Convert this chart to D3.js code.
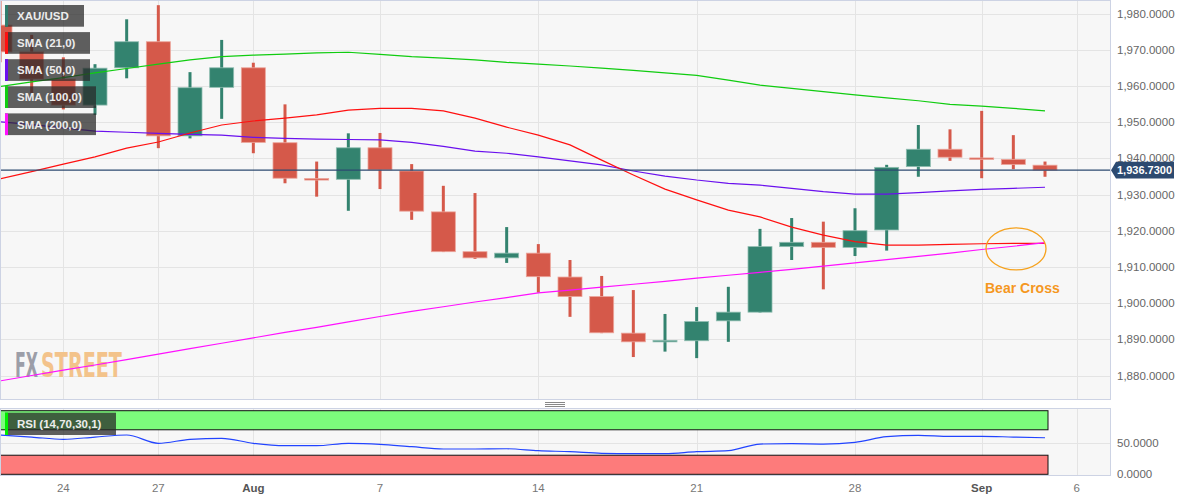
<!DOCTYPE html>
<html><head><meta charset="utf-8">
<script src="https://cdn.jsdelivr.net/npm/d3@7"></script>
<style>html,body{margin:0;padding:0;background:#fff;} svg{display:block;font-family:"Liberation Sans",Arial,sans-serif;}</style>
</head><body><svg id="c" width="1194" height="501"></svg>
<script>
// ---------- data ----------
const dates = ["2023-07-20","2023-07-21","2023-07-24","2023-07-25","2023-07-26","2023-07-27","2023-07-28","2023-07-31",
  "2023-08-01","2023-08-02","2023-08-03","2023-08-04","2023-08-07","2023-08-08","2023-08-09","2023-08-10","2023-08-11",
  "2023-08-14","2023-08-15","2023-08-16","2023-08-17","2023-08-18","2023-08-21","2023-08-22","2023-08-23","2023-08-24",
  "2023-08-25","2023-08-28","2023-08-29","2023-08-30","2023-08-31","2023-09-01","2023-09-04","2023-09-05"];
const futureDates = ["2023-09-06"];
const open  = [1976.8,1969.4,1961.9,1954.7,1965.0,1972.2,1946.2,1959.6,1965.0,1944.3,1934.4,1934.2,1942.9,1936.5,1925.2,1914.2,1912.5,
  1913.8,1907.2,1901.8,1891.7,1889.5,1889.6,1895.1,1897.5,1915.6,1916.8,1915.4,1920.2,1937.7,1942.5,1940.1,1939.7,1938.1];
const high  = [1986.0,1974.1,1967.9,1966.0,1978.4,1982.3,1963.8,1972.7,1966.4,1954.9,1939.1,1946.9,1947.0,1938.4,1932.4,1930.4,1921.0,
  1916.3,1911.9,1907.5,1903.6,1897.0,1898.9,1904.5,1920.5,1923.5,1922.5,1926.2,1938.2,1949.2,1948.0,1953.1,1946.4,1939.1];
const low   = [1966.5,1958.0,1953.5,1952.0,1962.1,1942.8,1945.5,1950.9,1941.4,1933.1,1929.4,1925.5,1931.5,1923.0,1914.1,1912.2,1911.1,
  1902.9,1896.2,1891.7,1885.1,1886.6,1884.8,1889.3,1897.4,1911.9,1903.8,1913.0,1914.5,1934.9,1939.3,1934.5,1937.0,1934.9];
const close = [1969.4,1961.9,1954.7,1964.9,1972.2,1946.2,1959.5,1965.0,1944.4,1934.5,1934.2,1942.9,1936.8,1925.4,1914.2,1912.5,1913.8,
  1907.3,1901.8,1891.8,1889.3,1889.7,1894.9,1897.5,1915.6,1916.8,1915.4,1920.0,1937.5,1942.5,1940.3,1940.0,1938.3,1936.73];
const sma21  = [1934.3,1936.3,1938.4,1940.4,1942.8,1944.5,1947.0,1949.2,1950.3,1951.1,1952.0,1953.3,1953.8,1953.8,1953.1,1951.1,1948.6,
  1946.4,1943.7,1939.5,1935.4,1931.5,1928.5,1925.7,1923.8,1921.0,1918.8,1917.0,1916.0,1916.0,1916.2,1916.4,1916.5,1916.5];
const sma50  = [1950.1,1949.3,1948.4,1947.5,1947.2,1946.9,1946.6,1946.4,1945.8,1945.5,1945.3,1945.2,1945.1,1944.4,1943.3,1942.0,1941.4,
  1940.4,1939.3,1938.2,1936.5,1935.1,1934.0,1933.1,1932.6,1931.7,1930.8,1930.1,1930.1,1930.5,1931.0,1931.4,1931.7,1932.0];
const sma100 = [1959.8,1961.1,1962.3,1963.6,1964.8,1966.0,1967.2,1968.1,1968.5,1968.8,1969.1,1969.3,1968.7,1968.1,1967.7,1967.2,1966.5,
  1966.0,1965.5,1964.9,1964.3,1963.6,1962.9,1961.6,1960.2,1959.3,1958.4,1957.5,1956.7,1955.9,1954.9,1954.4,1953.8,1953.1];
const sma200 = [1878.5,1880.0,1881.5,1882.9,1884.4,1885.9,1887.4,1888.9,1890.4,1891.9,1893.3,1894.8,1896.3,1897.7,1899.0,1900.3,1901.5,
  1902.8,1903.6,1904.4,1905.2,1906.0,1906.9,1907.7,1908.5,1909.3,1910.2,1911.1,1912.0,1912.9,1913.8,1914.8,1915.7,1916.7];
const rsi = [61.8,58.6,55.0,58.6,61.8,48.7,55.0,56.6,48.7,45.0,45.0,48.7,47.2,43.4,39.8,39.8,40.2,
  37.1,35.5,33.0,32.4,32.4,35.5,37.1,47.6,48.1,47.6,50.3,59.1,61.3,59.7,59.7,58.6,57.5];
const priceTicks = [1880,1890,1900,1910,1920,1930,1940,1950,1960,1970,1980];
const rsiTicks = [0,50];
const tickDates  = ["2023-07-24","2023-07-27","2023-08-01","2023-08-07","2023-08-14","2023-08-21","2023-08-28","2023-09-01","2023-09-06"];
const tickLabels = ["24","27","Aug","7","14","21","28","Sep","6"];
const tickBold   = [false,false,true,false,false,false,false,true,false];
const lastPrice = 1936.73;
const legendItems = ["XAU/USD","SMA (21,0)","SMA (50,0)","SMA (100,0)","SMA (200,0)"];
const legendColors = ["#2f7d6d","#ff1010","#6a10ee","#10cc10","#ff10ff"];
const rsiLegend = "RSI (14,70,30,1)";
const rsiBands = [[70,100],[0,30]];
const annotation = "Bear Cross";
const watermark = ["FX","STREET"];

// ---------- layout ----------
const svg = d3.select("#c");
const plotR = 1110, mainBot = 399, rsiTop = 408, rsiBot = 475;
const slots = dates.concat(futureDates);
const x = d3.scalePoint().domain(slots).range([0, 1076.67]);
const y = d3.scaleLinear().domain([1880, 1980]).range([375.5, 13.5]);
const yr = d3.scaleLinear().domain([0, 100]).range([474.3, 410.7]);
const UP = "#33836f", DN = "#d5594a", UPs = "#8fbdb1", DNs = "#eca49a";

const defs = svg.append("defs");
defs.append("clipPath").attr("id","mc").append("rect").attr("x",1).attr("y",1).attr("width",plotR-1).attr("height",mainBot-1);
defs.append("clipPath").attr("id","rc").append("rect").attr("x",1).attr("y",rsiTop+1).attr("width",plotR-1).attr("height",rsiBot-rsiTop-1);

// panels
svg.append("rect").attr("x",0.5).attr("y",0.5).attr("width",plotR).attr("height",mainBot)
  .attr("fill","#f7f7f7").attr("stroke","#cdd3e4");
svg.append("rect").attr("x",0.5).attr("y",rsiTop+0.5).attr("width",plotR).attr("height",rsiBot-rsiTop)
  .attr("fill","#f7f7f7").attr("stroke","#cdd3e4");

// grid
const grid = svg.append("g").attr("stroke","#e4e4e4").attr("stroke-width",1);
priceTicks.forEach(t => grid.append("line").attr("x1",1).attr("x2",plotR).attr("y1",Math.round(y(t))+0.5).attr("y2",Math.round(y(t))+0.5));
tickDates.forEach(d => {
  const xx = Math.round(x(d))+0.5;
  grid.append("line").attr("x1",xx).attr("x2",xx).attr("y1",1).attr("y2",mainBot);
  grid.append("line").attr("x1",xx).attr("x2",xx).attr("y1",rsiTop+1).attr("y2",rsiBot);
});
grid.append("line").attr("x1",1).attr("x2",plotR).attr("y1",Math.round(yr(50))+0.5).attr("y2",Math.round(yr(50))+0.5);

// watermark: two texts, each compressed to fit its own slot (measured at runtime)
const wmFont = "'Liberation Sans Narrow','DejaVu Sans Condensed','Liberation Sans',sans-serif";
[[watermark[0],15,23,"#9c9ea8"],[watermark[1],41,81,"#f3c38b"]].forEach(([t,x0,w,col])=>{
  const g = svg.append("g");
  const tx = g.append("text").attr("font-family",wmFont).attr("font-weight","bold").attr("font-size",33).attr("fill",col).text(t);
  const nat = tx.node().getComputedTextLength() || w;
  g.attr("transform",`translate(${x0},377) scale(${w/nat},1)`);
});

// candles
const main = svg.append("g").attr("clip-path","url(#mc)");
const idx = d3.range(dates.length);
main.selectAll("line.wick").data(idx).join("line").attr("class","wick")
  .attr("x1",i=>x(dates[i])).attr("x2",i=>x(dates[i]))
  .attr("y1",i=>y(high[i])).attr("y2",i=>y(low[i]))
  .attr("stroke",i=>close[i]>=open[i]?UP:DN).attr("stroke-width",3);
main.selectAll("rect.body").data(idx).join("rect").attr("class","body")
  .attr("x",i=>x(dates[i])-12).attr("width",24)
  .attr("y",i=>y(Math.max(open[i],close[i])))
  .attr("height",i=>Math.max(1.5, Math.abs(y(open[i])-y(close[i]))))
  .attr("fill",i=>close[i]>=open[i]?UP:DN)
  .attr("stroke",i=>close[i]>=open[i]?UPs:DNs).attr("stroke-width",0.8);

// SMA lines
const line = d3.line().x((v,i)=>x(dates[i])).y(v=>y(v)).curve(d3.curveLinear);
[[sma100,legendColors[3]],[sma50,legendColors[2]],[sma21,legendColors[1]],[sma200,legendColors[4]]].forEach(([arr,col])=>{
  main.append("path").attr("d",line(arr)).attr("fill","none").attr("stroke",col).attr("stroke-width",1.2);
});

// last price line
main.append("line").attr("x1",1).attr("x2",plotR).attr("y1",y(lastPrice)).attr("y2",y(lastPrice))
  .attr("stroke","#2c4a70").attr("stroke-width",1.2);

// annotation
const last = dates.length-1;
svg.append("ellipse").attr("cx",1016).attr("cy",y(sma21[last])+5.5).attr("rx",30).attr("ry",21)
  .attr("fill","none").attr("stroke","#f6a21e").attr("stroke-width",1.3);
svg.append("text").attr("x",985).attr("y",293).attr("fill","#f5971f").attr("font-weight","bold").attr("font-size",14).text(annotation);

// legend
const lg = svg.append("g");
const lgW = [79,85,85,91,91];
legendItems.forEach((t,k)=>{
  const y0 = 5 + k*27.1;
  lg.append("rect").attr("x",5).attr("y",y0).attr("width",lgW[k]).attr("height",21.7).attr("fill","rgba(40,40,40,0.74)");
  lg.append("rect").attr("x",5).attr("y",y0).attr("width",3).attr("height",21.7).attr("fill",legendColors[k]);
  lg.append("text").attr("x",17).attr("y",y0+11).attr("dy","0.36em").attr("fill","#ececec")
    .attr("font-weight","bold").attr("font-size",11.5).text(t);
});

// y axis labels
const fmt = d3.format(",.4f");
const yl = svg.append("g").attr("font-size",11.5).attr("fill","#666");
priceTicks.forEach(t => yl.append("text").attr("x",1117).attr("y",y(t)).attr("dy","0.35em").text(fmt(t)));
rsiTicks.forEach(t => yl.append("text").attr("x",1117).attr("y",yr(t)).attr("dy","0.35em").text(fmt(t)));

// price tag
const py = y(lastPrice);
svg.append("path").attr("d",`M1111,${py} L1116,${py-8.3} L1174,${py-8.3} L1174,${py+8.3} L1116,${py+8.3} Z`).attr("fill","#2c4a70");
svg.append("text").attr("x",1117).attr("y",py).attr("dy","0.36em").attr("fill","#fff").attr("font-weight","bold").attr("font-size",11).text(fmt(lastPrice));

// separator handle
[402,404,406].forEach(yy => svg.append("line").attr("x1",545).attr("x2",565).attr("y1",yy+0.5).attr("y2",yy+0.5).attr("stroke","#888"));

// RSI panel
const rg = svg.append("g").attr("clip-path","url(#rc)");
const bandEnd = x(dates[last]) + 2.5;
rg.append("rect").attr("x",0.5).attr("y",yr(rsiBands[0][1])).attr("width",bandEnd).attr("height",yr(rsiBands[0][0])-yr(rsiBands[0][1]))
  .attr("fill","#7cfc7c").attr("stroke","#111").attr("stroke-width",1);
rg.append("rect").attr("x",0.5).attr("y",yr(rsiBands[1][1])).attr("width",bandEnd).attr("height",yr(rsiBands[1][0])-yr(rsiBands[1][1]))
  .attr("fill","#fd7b7b").attr("stroke","#111").attr("stroke-width",1);
rg.append("path").attr("d",d3.line().x((v,i)=>x(dates[i])).y(v=>yr(v)).curve(d3.curveMonotoneX)(rsi))
  .attr("fill","none").attr("stroke","#2244ff").attr("stroke-width",1.2);
svg.append("rect").attr("x",5).attr("y",412.7).attr("width",111).attr("height",22.3).attr("fill","rgba(40,40,40,0.74)");
svg.append("rect").attr("x",5).attr("y",412.7).attr("width",3).attr("height",22.3).attr("fill","#00ee00");
svg.append("text").attr("x",17).attr("y",424).attr("dy","0.36em").attr("fill","#ececec").attr("font-weight","bold").attr("font-size",11.5).text(rsiLegend);

// x axis labels
const xl = svg.append("g").attr("font-size",11.5).attr("text-anchor","middle");
tickDates.forEach((d,k)=> xl.append("text").attr("x",x(d)).attr("y",488).attr("dy","0.35em")
  .attr("fill",tickBold[k]?"#555":"#777").attr("font-weight",tickBold[k]?"bold":"normal").text(tickLabels[k]));
</script></body></html>
